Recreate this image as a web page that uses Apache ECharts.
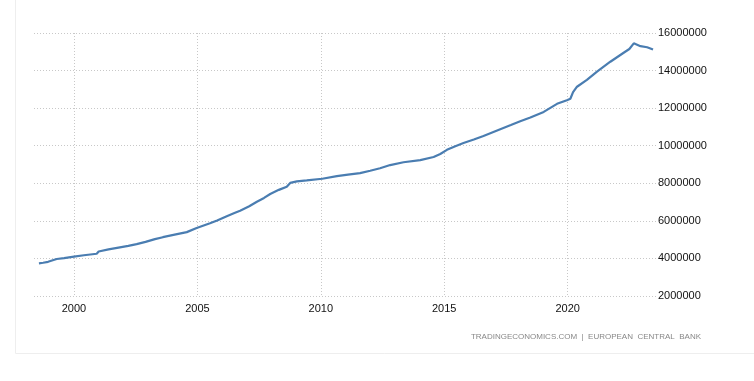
<!DOCTYPE html>
<html>
<head>
<meta charset="utf-8">
<script src="https://cdn.jsdelivr.net/npm/echarts@6/dist/echarts.min.js"></script>
<style>
html,body{margin:0;padding:0;background:#fff;}
#chart{width:754px;height:381px;}
</style>
</head>
<body>
<div id="chart"></div>
<script>
// Decimal years of each observation
var years = [1998.58,1998.75,1998.95,1999.0,1999.3,1999.6,2000.0,2000.4,2000.92,2001.0,
  2001.4,2001.86,2002.2,2002.54,2002.9,2003.28,2003.6,2004.03,2004.57,2004.97,
  2005.51,2005.8,2006.19,2006.5,2006.73,2007.1,2007.41,2007.7,2007.95,2008.3,
  2008.62,2008.76,2009.03,2009.43,2010.06,2010.65,2011.1,2011.59,2012.0,2012.4,
  2012.81,2013.35,2014.03,2014.57,2014.84,2015.11,2015.4,2015.78,2016.2,2016.59,
  2017.27,2017.7,2018.08,2018.49,2019.03,2019.57,2019.97,2020.11,2020.22,2020.38,
  2020.78,2021.19,2021.73,2022.27,2022.5,2022.68,2022.95,2023.22,2023.46];
// Values (millions)
var valuesM = [3.74,3.77,3.82,3.92,3.97,4.02,4.10,4.17,4.25,4.37,
  4.48,4.59,4.67,4.76,4.88,5.03,5.13,5.25,5.40,5.62,
  5.87,6.02,6.25,6.42,6.54,6.78,7.02,7.22,7.43,7.65,
  7.82,8.02,8.10,8.15,8.24,8.38,8.46,8.54,8.67,8.80,
  8.97,9.12,9.23,9.40,9.56,9.78,9.95,10.14,10.33,10.52,
  10.88,11.10,11.30,11.50,11.80,12.23,12.42,12.50,12.85,13.14,
  13.50,13.94,14.47,14.95,15.15,15.45,15.30,15.24,15.12];
var xTicks = [2000, 2005, 2010, 2015, 2020];
var yTicks = [2000000, 4000000, 6000000, 8000000, 10000000, 12000000, 14000000, 16000000];
var sourceText = 'TRADINGECONOMICS.COM  |  EUROPEAN  CENTRAL  BANK';

var data = years.map(function (y, i) { return [y, Math.round(valuesM[i] * 1000000)]; });

var chart = echarts.init(document.getElementById('chart'), null, {renderer: 'canvas'});
var gridLine = {show: true, lineStyle: {color: '#c8c8c8', type: [1, 2], width: 1}};
chart.setOption({
  animation: false,
  backgroundColor: '#fff',
  grid: {left: 34, right: 98, top: 33, bottom: 85, containLabel: false},
  xAxis: {
    type: 'value',
    min: 1998.38,
    max: 2023.58,
    axisLine: {show: false},
    axisTick: {show: false, customValues: xTicks},
    splitLine: gridLine,
    axisLabel: {
      customValues: xTicks,
      margin: 7,
      color: '#111',
      fontSize: 11,
      fontFamily: 'Liberation Sans',
      formatter: function (v) { return String(Math.round(v)); }
    }
  },
  yAxis: {
    type: 'value',
    position: 'right',
    min: yTicks[0],
    max: yTicks[yTicks.length - 1],
    interval: 2000000,
    axisLine: {show: false},
    axisTick: {show: false},
    splitLine: gridLine,
    axisLabel: {
      margin: 2,
      color: '#111',
      fontSize: 11,
      fontFamily: 'Liberation Sans',
      formatter: function (v) { return String(v); }
    }
  },
  series: [{
    type: 'line',
    data: data,
    showSymbol: false,
    symbol: 'none',
    lineStyle: {color: '#4a7db1', width: 2.2},
    itemStyle: {color: '#4a7db1'}
  }],
  graphic: [
    {type: 'line', shape: {x1: 15.5, y1: 0, x2: 15.5, y2: 353.5}, style: {stroke: '#eeeeee', lineWidth: 1}},
    {type: 'line', shape: {x1: 15.5, y1: 353.5, x2: 754, y2: 353.5}, style: {stroke: '#eeeeee', lineWidth: 1}},
    {type: 'text', right: 53, top: 333, style: {text: sourceText, fill: '#888', font: '8px "Liberation Sans"'}}
  ]
});
</script>
</body>
</html>
